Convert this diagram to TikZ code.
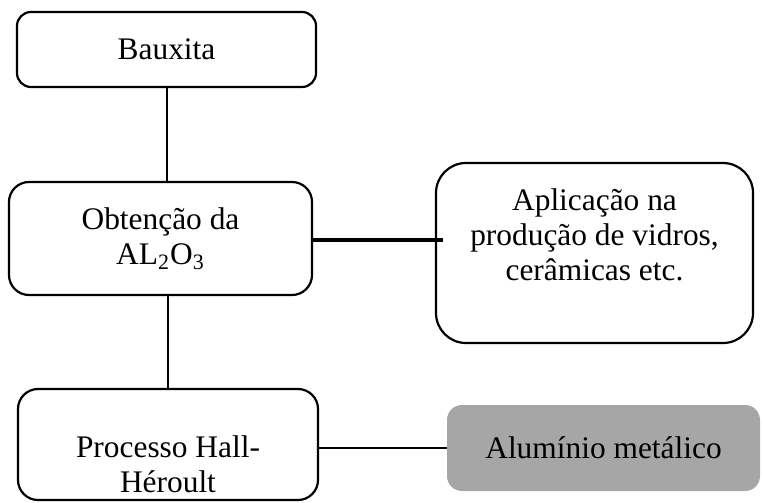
\documentclass[tikz,border=0pt]{standalone}
\usepackage{fontspec}
\setmainfont{Liberation Serif}
\usetikzlibrary{positioning}
\definecolor{boxgray}{RGB}{166, 166, 166}
\tikzset{
  every node/.style={font=\fontsize{15.7}{17.5}\selectfont, align=center},
  stage/.style={draw, line width=1.1pt, inner sep=0},
  product/.style={fill=boxgray, inner sep=0, rounded corners=7.5pt},
  link/.style={line width=1pt},
  biglink/.style={line width=1.75pt}
}

\begin{document}
\begin{tikzpicture}[x=0.5pt, y=-0.5pt]
  \useasboundingbox (0,0) rectangle (763,502);
  \node[stage, rounded corners=7pt, minimum width=149.5pt, minimum height=37.5pt] (bau) at (166.5,49.5) {Bauxita};
  \node[stage, rounded corners=10pt, minimum width=151.5pt, minimum height=56.5pt] (obt) at (160.5,238.5) {Obtenção da\\AL\textsubscript{2}O\textsubscript{3}};
  \node[stage, rounded corners=15pt, minimum width=158.5pt, minimum height=90pt] (apl) at (594.5,253) {};
  \node (apltxt) at (594.5,235) {Aplicação na\\produção de vidros,\\cerâmicas etc.};
  \node[stage, rounded corners=10pt, minimum width=150pt, minimum height=55.5pt] (proc) at (168,444.5) {};
  \node (proctxt) at (168,464) {Processo Hall-\\Héroult};
  \node[product, minimum width=156.5pt, minimum height=43pt] (alu) at (603.5,448) {Alumínio metálico};
  \coordinate (aplin) at (443,240);

  \draw[link] (bau.south) -- (bau.south |- obt.north);
  \draw[link] (proc.north |- obt.south) -- (proc.north);
  \draw[biglink] (obt.east |- aplin) -- (aplin);
  \draw[line width=0.85pt] (proc.east |- alu.west) -- (alu.west);
\end{tikzpicture}
\end{document}
